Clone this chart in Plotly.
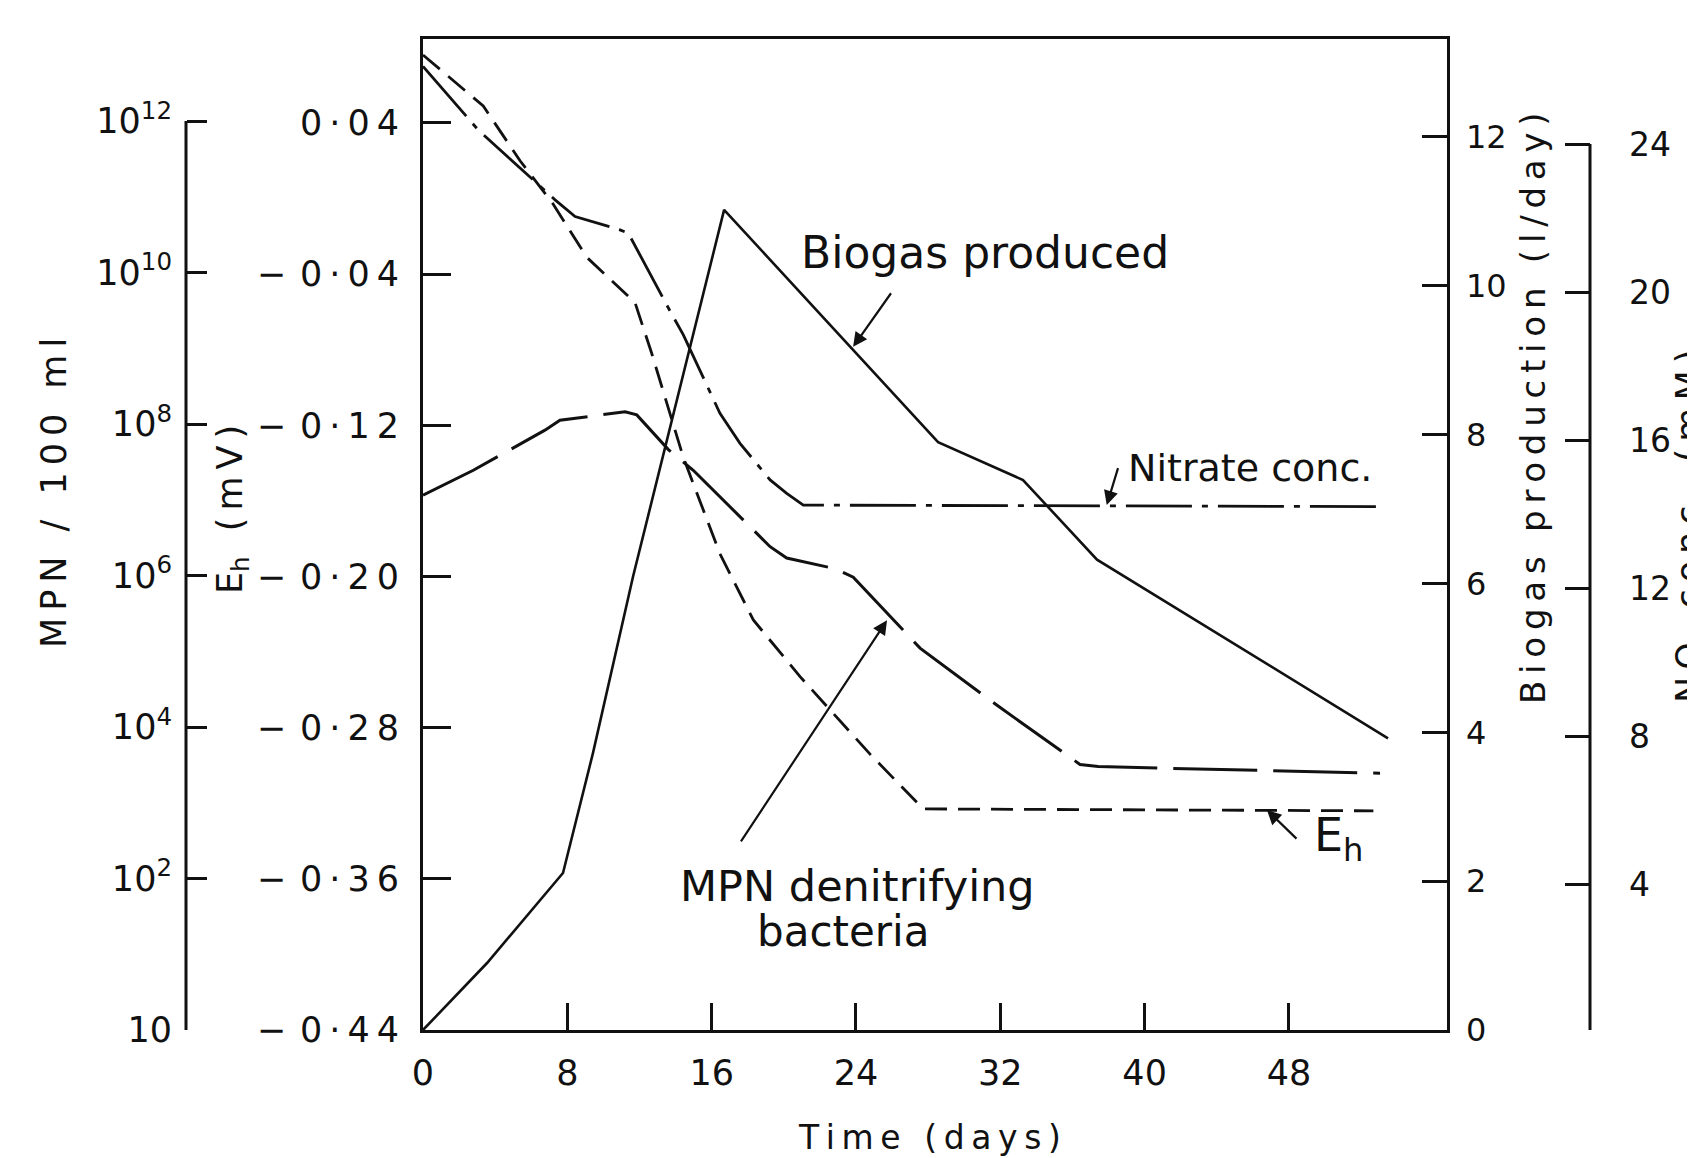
import plotly.graph_objects as go

# ---------------- data ----------------
day_ticks = [0, 8, 16, 24, 32, 40, 48]

# Biogas produced (l/day) - solid line, right inner axis
days_biogas = [0, 3.55, 7.76, 9.42, 11.64, 13.80, 16.69, 28.55, 33.26, 37.36, 53.49]
biogas_l_day = [0.0, 0.90, 2.11, 3.72, 6.09, 8.20, 11.02, 7.90, 7.39, 6.32, 3.92]

# Eh (mV) - short dashes, left inner axis
days_eh = [0, 3.34, 5.38, 7.22, 9.07, 11.75, 12.68, 14.43, 16.46, 18.31, 20.90, 24.78, 27.73, 52.68]
eh_mv = [0.076, 0.049, 0.020, -0.003, -0.031, -0.055, -0.082, -0.137, -0.188, -0.223, -0.253, -0.294, -0.323, -0.324]

# Nitrate concentration (mM) - dash-dot, right outer axis
days_no3 = [0, 3.06, 7.32, 8.43, 10.92, 11.38, 13.51, 14.43, 16.46, 17.57, 19.24, 20.16, 21.08, 53.05]
no3_mM = [26.1, 24.38, 22.49, 22.04, 21.68, 21.59, 19.65, 18.84, 16.72, 15.91, 14.92, 14.56, 14.24, 14.20]

# MPN denitrifying bacteria (per 100 ml) - long dashes, left outer log axis
days_mpn = [0, 2.79, 6.76, 7.59, 11.2, 11.85, 13.6, 14.98, 18.13, 19.24, 20.16, 22.84, 23.85, 27.55, 31.8, 36.42, 37.43, 53.05]
mpn_per_100ml = [1.15e7, 2.45e7, 8.3e7, 1.12e8, 1.45e8, 1.32e8, 4.6e7, 2.45e7, 4.4e6, 2.4e6, 1.7e6,
                 1.23e6, 9.5e5, 1.1e5, 1.95e4, 3.2e3, 3.0e3, 2.45e3]

# tick labels
eh_tickvals = [0.04, -0.04, -0.12, -0.20, -0.28, -0.36, -0.44]
mpn_tickvals = [1e12, 1e10, 1e8, 1e6, 1e4, 1e2, 1e0]
mpn_ticktext = ["10<sup>12</sup>", "10<sup>10</sup>", "10<sup>8</sup>", "10<sup>6</sup>",
                "10<sup>4</sup>", "10<sup>2</sup>", "10"]
biogas_tickvals = [0, 2, 4, 6, 8, 10, 12]
no3_tickvals = [0, 4, 8, 12, 16, 20, 24]

# ---------------- styling ----------------
WIN_W, WIN_H = 1695, 1158
BODY = 8                      # default page margin around the figure
W, H = WIN_W - BODY, WIN_H - BODY
FONT = "DejaVu Sans"
BLACK = "#111111"
THIN = "\u2009"


def px(xw):   # window x pixel -> paper fraction
    return (xw - BODY) / W


def py(yw):   # window y pixel -> paper fraction (from bottom)
    return 1 - (yw - BODY) / H


def spaced(s):
    return THIN.join(s)


def eh_label(v):
    body = spaced("0·" + f"{round(abs(v) * 100):02d}")
    return ("−" + THIN + THIN + body) if v < 0 else body


x_dom = [px(423), px(1447)]
y_dom = [py(1030), py(39)]
mpn_pos = px(186)
no3_pos = px(1590)

fig = go.Figure()
fig.add_trace(go.Scatter(x=days_eh, y=eh_mv, mode="lines", yaxis="y",
                         line=dict(color=BLACK, width=2.8, dash="22px,11px")))
fig.add_trace(go.Scatter(x=days_mpn, y=mpn_per_100ml, mode="lines", yaxis="y2",
                         line=dict(color=BLACK, width=3, dash="84px,16px")))
fig.add_trace(go.Scatter(x=days_biogas, y=biogas_l_day, mode="lines", yaxis="y3",
                         line=dict(color=BLACK, width=2.6)))
fig.add_trace(go.Scatter(x=days_no3, y=no3_mM, mode="lines", yaxis="y4",
                         line=dict(color=BLACK, width=2.8, dash="66px,10px,6px,10px")))


def ticks_style(size=35):
    return dict(ticks="inside", tickwidth=3, tickcolor=BLACK, showgrid=False, zeroline=False,
                automargin=False, tickfont=dict(family=FONT, size=size, color=BLACK))


fig.update_layout(
    template="none",
    width=W, height=H, margin=dict(l=0, r=0, t=0, b=0, pad=0, autoexpand=False),
    paper_bgcolor="white", plot_bgcolor="white", showlegend=False,
    font=dict(family=FONT, color=BLACK, size=34),
    xaxis=dict(domain=x_dom, range=[0, 56.76], tickvals=day_ticks,
               ticktext=[str(t) for t in day_ticks], ticklen=27,
               showline=True, linewidth=3, linecolor=BLACK, mirror=True,
               ticklabelstandoff=10, **ticks_style(35)),
    yaxis=dict(domain=y_dom, range=[-0.44, 0.08445], tickvals=eh_tickvals,
               ticktext=[eh_label(v) for v in eh_tickvals], ticklen=28,
               showline=True, linewidth=3, linecolor=BLACK, mirror=True,
               ticklabelstandoff=14, **ticks_style(35)),
    yaxis2=dict(type="log", overlaying="y", anchor="free", position=mpn_pos, side="left",
                range=[0, 13.0825], tickvals=mpn_tickvals, ticktext=mpn_ticktext, ticklen=20,
                showline=False, ticklabelstandoff=14, **ticks_style(35)),
    yaxis3=dict(overlaying="y", anchor="x", side="right", range=[0, 13.316],
                tickvals=biogas_tickvals, ticktext=[str(v) for v in biogas_tickvals], ticklen=25,
                showline=False, ticklabelstandoff=18, **ticks_style(32)),
    yaxis4=dict(overlaying="y", anchor="free", position=no3_pos, side="right", range=[0.054, 26.838],
                tickvals=no3_tickvals, ticktext=[str(v) for v in no3_tickvals], ticklen=25,
                showline=False, ticklabelstandoff=38, **ticks_style(33)),
)

# partial axis lines of the two outer axes (data units)
fig.add_shape(type="line", xref="paper", yref="y2", x0=mpn_pos, x1=mpn_pos,
              y0=mpn_tickvals[-1], y1=mpn_tickvals[0], line=dict(color=BLACK, width=3))
fig.add_shape(type="line", xref="paper", yref="y4", x0=no3_pos, x1=no3_pos,
              y0=no3_tickvals[0], y1=no3_tickvals[-1], line=dict(color=BLACK, width=3))


def label(text, xw, yw, size=35, angle=-90):
    fig.add_annotation(text=text, xref="paper", yref="paper", x=px(xw), y=py(yw),
                       xanchor="center", yanchor="middle", showarrow=False, textangle=angle,
                       font=dict(family=FONT, size=size, color=BLACK))


# axis titles
label(spaced("MPN / 100 ml"), 54, 493)
label("E<sub>h</sub>" + THIN + " " + THIN + spaced("(mV)"), 232, 510)
label(spaced("Biogas production (l/day)"), 1533, 408, size=34)
label(spaced("NO") + "<sub>3</sub>" + THIN + " " + spaced("conc. (mM)"), 1691, 527)
label(spaced("Time (days)"), 930, 1137, size=33, angle=0)

# curve labels
label("Biogas produced", 985, 252, size=44, angle=0)
label("Nitrate conc.", 1250, 468, size=38, angle=0)
label("MPN denitrifying", 857, 886, size=43, angle=0)
label("bacteria", 843, 931, size=42, angle=0)
label("E<sub>h</sub>", 1338, 838, size=46, angle=0)

# leader arrows pointing at curves
arrow = dict(text="", showarrow=True, arrowhead=2, arrowsize=1.3, arrowwidth=2.2, arrowcolor=BLACK)
fig.add_annotation(x=23.84, y=9.18, xref="x", yref="y3", ax=26.0, ay=9.92, axref="x", ayref="y3", **arrow)
fig.add_annotation(x=37.9, y=14.24, xref="x", yref="y4", ax=38.55, ay=15.28, axref="x", ayref="y4", **arrow)
fig.add_annotation(x=25.72, y=5.41, xref="x", yref="y2", ax=17.57, ay=2.47, axref="x", ayref="y2", **arrow)
fig.add_annotation(x=46.78, y=-0.3236, xref="x", yref="y", ax=48.5, ay=-0.3395, axref="x", ayref="y", **arrow)

fig.write_html("out.html")
